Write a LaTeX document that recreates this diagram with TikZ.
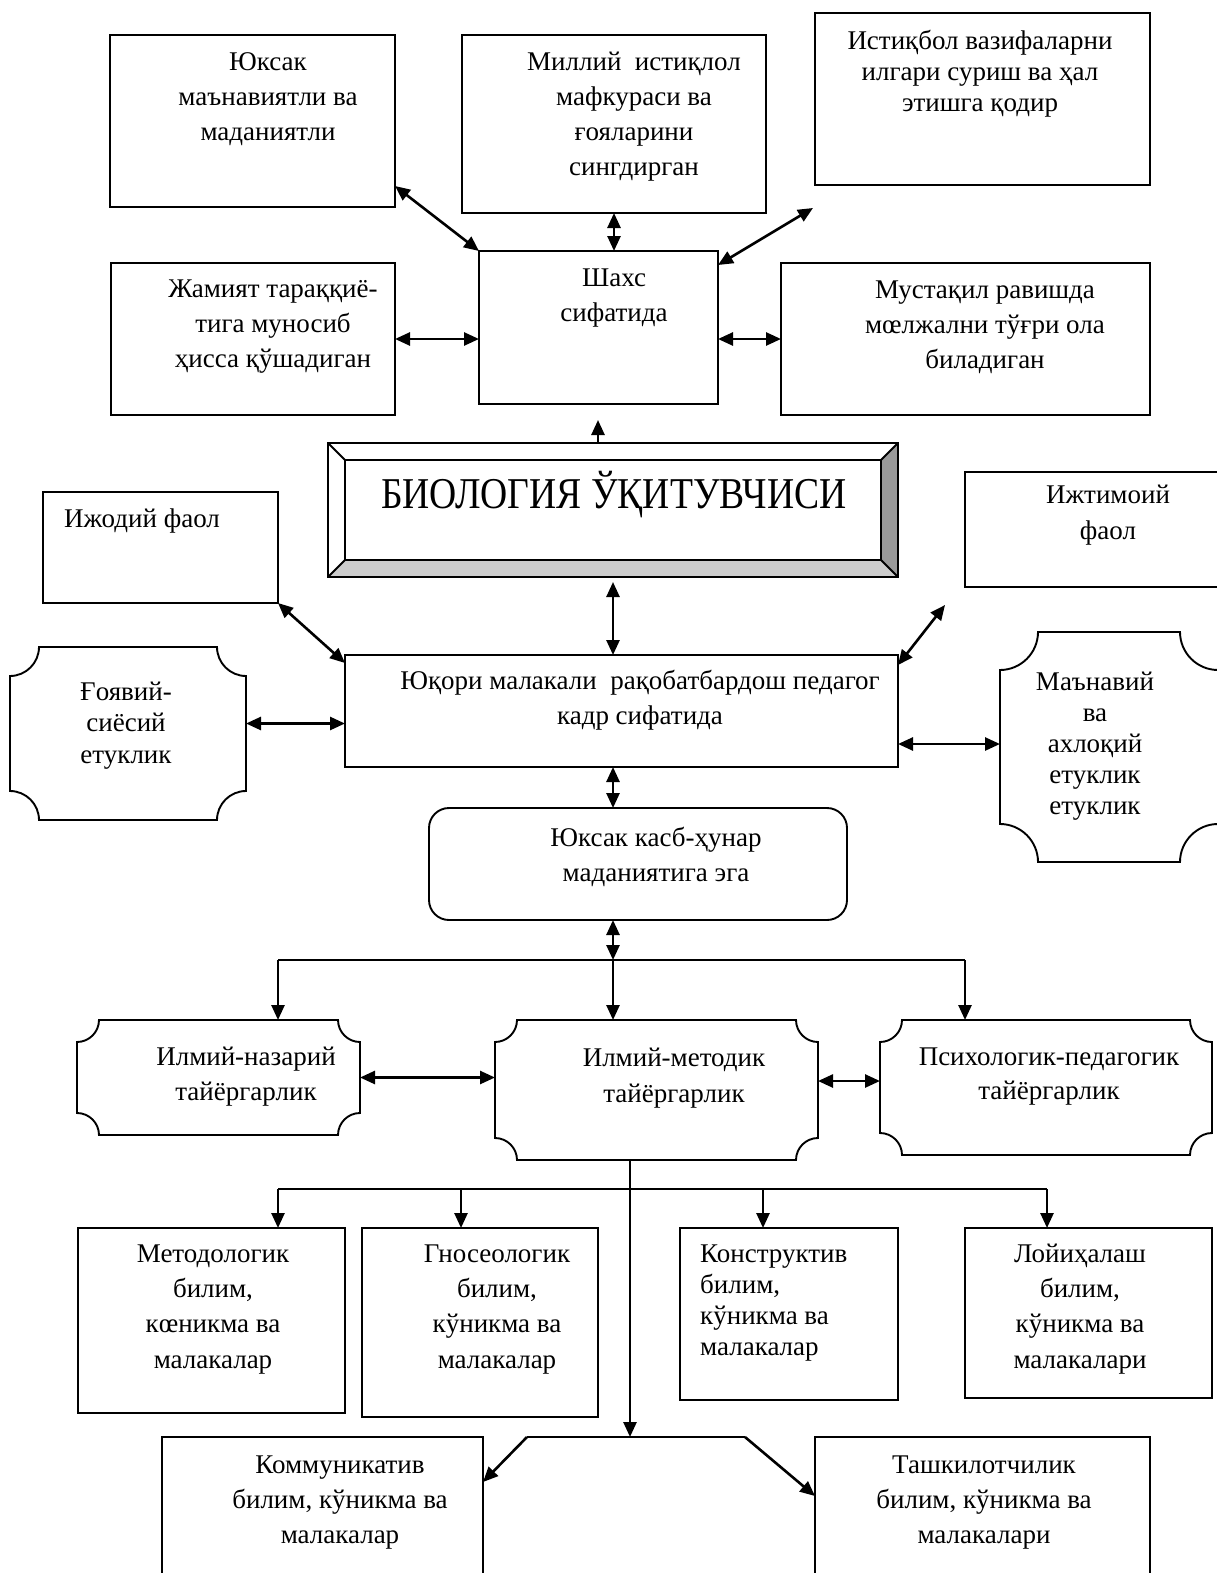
\documentclass[tikz,border=0pt]{standalone}
\usepackage{fontspec}
\setmainfont{Liberation Serif}
\newfontfamily\biofont[FakeStretch=0.855]{Liberation Serif}
\usetikzlibrary{arrows.meta}
\tikzset{
 box/.style={draw, line width=1.9pt, inner sep=0, outer sep=0, anchor=north west},
 conn/.style={line width=2.6pt},
 arr/.style={conn, -{Triangle[length=15pt,width=13pt]}},
 darr/.style={conn, {Triangle[length=15pt,width=13pt]}-{Triangle[length=15pt,width=13pt]}},
 txt/.style={inner sep=0, align=center, anchor=north},
}
\newcommand\bx[5]{\node[box, minimum width={#4-#2}, minimum height={#5-#3}] (#1) at (#2,#3) {};}
\newcommand\tx[5]{\node[txt, font=\fontsize{27}{#4}\selectfont] (#1) at ({#2},{#3-0.7*#4}) {\strut #5};}
\newcommand\plaque[6]{%
 \node[inner sep=0, outer sep=0, anchor=north west, minimum width={#4-#2}, minimum height={#5-#3}] (#1) at (#2,#3) {};
 \draw[line width=1.9pt] ({#2+#6},#3) -- ({#4-#6},#3)
   .. controls ({#4-#6},{#3+0.55*#6}) and ({#4-0.55*#6},{#3+#6}) .. (#4,{#3+#6})
   -- (#4,{#5-#6})
   .. controls ({#4-0.55*#6},{#5-#6}) and ({#4-#6},{#5-0.55*#6}) .. ({#4-#6},#5)
   -- ({#2+#6},#5)
   .. controls ({#2+#6},{#5-0.55*#6}) and ({#2+0.55*#6},{#5-#6}) .. (#2,{#5-#6})
   -- (#2,{#3+#6})
   .. controls ({#2+0.55*#6},{#3+#6}) and ({#2+#6},{#3+0.55*#6}) .. ({#2+#6},#3)
   -- cycle;}
\begin{document}
\begin{tikzpicture}[x=1pt, y=-1pt]
\fill[white] (0,0) rectangle (1216,1573);
\useasboundingbox (0,0) rectangle (1216,1573);
% boxes
\bx{A}{110}{35}{395}{207}
\bx{B}{462}{35}{766}{213}
\bx{C}{815}{13}{1150}{185}
\bx{D}{111}{263}{395}{415}
\bx{E}{479}{251}{718}{404}
\bx{F}{781}{263}{1150}{415}
\bx{H}{43}{492}{278}{603}
\bx{I}{965}{472}{1222}{587}
\bx{G}{345}{655}{898}{767}
\bx{P}{78}{1228}{345}{1413}
\bx{Q}{362}{1228}{598}{1417}
\bx{R}{680}{1228}{898}{1400}
\bx{S}{965}{1228}{1212}{1398}
\bx{T}{162}{1437}{483}{1590}
\bx{U}{815}{1437}{1150}{1590}
\node[box, rounded corners=20pt, minimum width=418, minimum height=112] (L) at (429,808) {};
% bevel box
\fill[black!40] (898,443) -- (898,577) -- (881,560) -- (881,460) -- cycle;
\fill[black!20] (328,577) -- (898,577) -- (881,560) -- (345,560) -- cycle;
\draw[line width=1.9pt] (345,460) rectangle (881,560);
\draw[line width=1.9pt] (328,443) -- (345,460) (898,443) -- (881,460) (328,577) -- (345,560) (898,577) -- (881,560);
\node[box, minimum width=570, minimum height=134] (bio) at (328,443) {};
\node[inner sep=0, anchor=base, font=\biofont\fontsize{44}{50}\selectfont] (tbio) at (614,508) {БИОЛОГИЯ ЎҚИТУВЧИСИ};
% plaques
\plaque{J}{10}{647}{246}{820}{29}
\plaque{K}{1000}{632}{1218}{862}{38}
\plaque{O}{77}{1020}{360}{1135}{22}
\plaque{M}{495}{1020}{818}{1160}{22}
\plaque{N}{880}{1020}{1212}{1155}{22}
% texts
\tx{tA}{268}{70}{35}{Юксак\\маънавиятли ва\\маданиятли}
\tx{tB}{634}{70}{35}{Миллий\ \ истиқлол\\мафкураси ва\\ғояларини\\сингдирган}
\tx{tC}{980}{49}{31}{Истиқбол вазифаларни\\илгари суриш ва ҳал\\этишга қодир}
\tx{tD}{273}{297}{35}{Жамият тараққиё-\\тига муносиб\\ҳисса қўшадиган}
\tx{tE}{614}{286}{35}{Шахс\\сифатида}
\tx{tF}{985}{298}{35}{Мустақил равишда\\мœлжални тўғри ола\\биладиган}
\node[inner sep=0, anchor=base west, font=\fontsize{27}{35}\selectfont] (tH) at (64,527) {Ижодий фаол};
\tx{tI}{1108}{503}{36}{Ижтимоий\\фаол}
\tx{tG}{640}{689}{35}{Юқори малакали\ \ рақобатбардош педагог\\кадр сифатида}
\tx{tJ}{126}{700}{31.5}{Ғоявий-\\сиёсий\\етуклик}
\tx{tK}{1095}{690}{31}{Маънавий\\ва\\ахлоқий\\етуклик\\етуклик}
\tx{tL}{656}{846}{35}{Юксак касб-ҳунар\\маданиятига эга}
\tx{tO}{246}{1065}{35}{Илмий-назарий\\тайёргарлик}
\tx{tM}{674}{1066}{36}{Илмий-методик\\тайёргарлик}
\tx{tN}{1049}{1065}{34}{Психологик-педагогик\\тайёргарлик}
\tx{tP}{213}{1262}{35.3}{Методологик\\билим,\\кœникма ва\\малакалар}
\tx{tQ}{497}{1262}{35.3}{Гносеологик\\билим,\\кўникма ва\\малакалар}
\node[txt, anchor=north west, align=left, font=\fontsize{27}{31}\selectfont] (tR) at (700,{1262-0.7*31}) {\strut Конструктив\\билим,\\кўникма ва\\малакалар};
\tx{tS}{1080}{1262}{35.3}{Лойиҳалаш\\билим,\\кўникма ва\\малакалари}
\tx{tT}{340}{1473}{35}{Коммуникатив\\билим, кўникма ва\\малакалар}
\tx{tU}{984}{1473}{35}{Ташкилотчилик\\билим, кўникма ва\\малакалари}
% connectors
\coordinate (Cend) at (813,208);
\coordinate (bioup) at (598,420);
\coordinate (Iend) at (945,605);
\coordinate (j1) at (613,960);
\coordinate (jl) at (278,960);
\coordinate (jr) at (965,960);
\coordinate (j2) at (630,1189);
\coordinate (p1) at (278,1189);
\coordinate (p2) at (461,1189);
\coordinate (p3) at (763,1189);
\coordinate (p4) at (1047,1189);
\coordinate (tm) at (630,1437);
\coordinate (tl) at (527,1437);
\coordinate (tr) at (745,1437);
\draw[darr] ([yshift=21pt]A.south east) -- (E.north west);
\draw[darr] (B.south) -- (B.south |- E.north);
\draw[darr] ([yshift=-14pt]E.north east) -- (Cend);
\draw[darr] (D.east) -- (D.east -| E.west);
\draw[darr] (E.east |- F.west) -- (F.west);
\draw[arr] (bioup |- bio.north) -- (bioup);
\draw[darr] ([yshift=-5pt]bio.south) -- (bio.south |- G.north);
\draw[darr] (H.south east) -- ([yshift=-8pt]G.north west);
\draw[darr] ([yshift=-10pt]G.north east) -- (Iend);
\draw[darr] ([yshift=10pt]J.east) -- ([yshift=10pt]J.east -| G.west);
\draw[darr] ([yshift=3pt]K.west -| G.east) -- ([yshift=3pt]K.west);
\draw[darr] (bio.south |- G.south) -- (bio.south |- L.north);
\draw[darr] (bio.south |- L.south) -- (j1);
\draw[conn] (jl) -- (jr);
\draw[arr] (jl) -- (jl |- O.north);
\draw[arr] (j1) -- (j1 |- M.north);
\draw[arr] (jr) -- (jr |- N.north);
\draw[darr] (O.east) -- (O.east -| M.west);
\draw[darr] ([yshift=9pt]M.east) -- ([yshift=9pt]M.east -| N.west);
\draw[arr] (j2 |- M.south) -- (tm);
\draw[conn] (p1) -- (p4);
\draw[arr] (p1) -- (p1 |- P.north);
\draw[arr] (p2) -- (p2 |- Q.north);
\draw[arr] (p3) -- (p3 |- R.north);
\draw[arr] (p4) -- (p4 |- S.north);
\draw[conn] (tl) -- (tr);
\draw[arr] (tl) -- ([yshift=-45pt]T.north east);
\draw[arr] (tr) -- ([yshift=-59pt]U.north west);
\end{tikzpicture}
\end{document}
